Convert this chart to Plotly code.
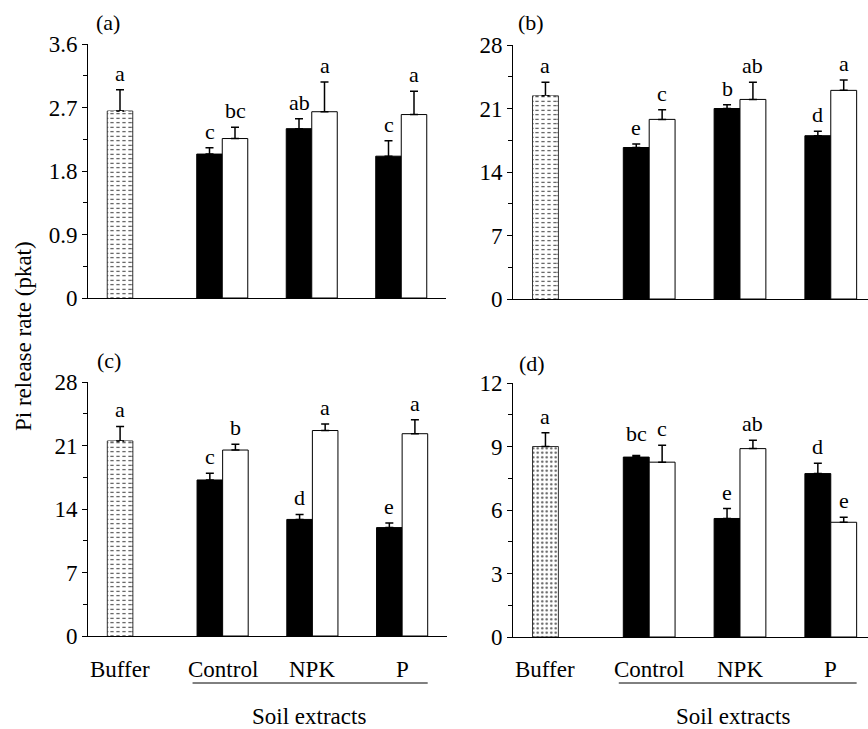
import plotly.graph_objects as go

# ---------------- data ----------------
groups = ["Control", "NPK", "P"]
buffer_label = "Buffer"

# panel (a)
a_buffer, a_buffer_err, a_buffer_let = 2.65, 0.30, "a"
a_black = [2.04, 2.40, 2.01]
a_black_err = [0.09, 0.14, 0.22]
a_black_let = ["c", "ab", "c"]
a_white = [2.26, 2.64, 2.60]
a_white_err = [0.16, 0.42, 0.33]
a_white_let = ["bc", "a", "a"]

# panel (b)
b_buffer, b_buffer_err, b_buffer_let = 22.4, 1.5, "a"
b_black = [16.7, 21.0, 18.0]
b_black_err = [0.4, 0.4, 0.5]
b_black_let = ["e", "b", "d"]
b_white = [19.8, 22.0, 23.0]
b_white_err = [1.05, 1.9, 1.15]
b_white_let = ["c", "ab", "a"]

# panel (c)
c_buffer, c_buffer_err, c_buffer_let = 21.5, 1.6, "a"
c_black = [17.2, 12.85, 11.95]
c_black_err = [0.75, 0.55, 0.5]
c_black_let = ["c", "d", "e"]
c_white = [20.5, 22.65, 22.3]
c_white_err = [0.65, 0.72, 1.55]
c_white_let = ["b", "a", "a"]

# panel (d)
d_buffer, d_buffer_err, d_buffer_let = 9.0, 0.65, "a"
d_black = [8.5, 5.6, 7.72]
d_black_err = [0.08, 0.47, 0.49]
d_black_let = ["bc", "e", "d"]
d_white = [8.26, 8.9, 5.42]
d_white_err = [0.8, 0.4, 0.24]
d_white_let = ["c", "ab", "e"]

y_ranges = {"a": (3.6, 0.9), "b": (28, 7), "c": (28, 7), "d": (12, 3)}

# ---------------- layout helpers ----------------
W, H = 868, 729
FONT = "Liberation Serif"
BW = 0.285  # bar width in category units
TXT = 23

cats = [buffer_label] + groups

panels = {
    "a": dict(xa="x", ya="y", xdom=(88 / W, 446 / W), ydom=(1 - 298 / H, 1 - 44 / H), xr=(-0.5, 3.5),
              data=(a_buffer, a_buffer_err, a_buffer_let, a_black, a_black_err, a_black_let, a_white, a_white_err, a_white_let),
              pat="-", lab=(108 / W, 1 - 22 / H)),
    "b": dict(xa="x2", ya="y2", xdom=(513 / W, 1.0), ydom=(1 - 299 / H, 1 - 45 / H), xr=(-0.5, 3.41),
              data=(b_buffer, b_buffer_err, b_buffer_let, b_black, b_black_err, b_black_let, b_white, b_white_err, b_white_let),
              pat="-", lab=(531 / W, 1 - 22 / H)),
    "c": dict(xa="x3", ya="y3", xdom=(88 / W, 447 / W), ydom=(1 - 636 / H, 1 - 382 / H), xr=(-0.5, 3.5),
              data=(c_buffer, c_buffer_err, c_buffer_let, c_black, c_black_err, c_black_let, c_white, c_white_err, c_white_let),
              pat="-", lab=(109 / W, 1 - 361 / H)),
    "d": dict(xa="x4", ya="y4", xdom=(513 / W, 1.0), ydom=(1 - 637 / H, 1 - 383 / H), xr=(-0.5, 3.41),
              data=(d_buffer, d_buffer_err, d_buffer_let, d_black, d_black_err, d_black_let, d_white, d_white_err, d_white_let),
              pat=".", lab=(532 / W, 1 - 363 / H)),
}

fig = go.Figure()
annotations = []
shapes = []
layout = {}

for key, p in panels.items():
    buf, buf_err, buf_let, blk, blk_err, blk_let, wht, wht_err, wht_let = p["data"]
    xa, ya = p["xa"], p["ya"]
    if p["pat"] == "-":
        pat = dict(shape="-", fgcolor="#333", size=4.5, solidity=0.22)
    else:
        pat = dict(shape=".", fgcolor="#555", size=4.5, solidity=0.22)
    # buffer bar
    fig.add_trace(go.Bar(
        x=[buffer_label], y=[buf], xaxis=xa, yaxis=ya, offset=-BW, width=BW,
        marker=dict(color="white", line=dict(color="#333", width=1), pattern=pat),
        error_y=dict(type="data", symmetric=False, array=[buf_err], arrayminus=[0],
                     color="black", thickness=1.5, width=4),
        showlegend=False, hoverinfo="skip"))
    if p["pat"] == "-":
        # white vertical breaks turning the horizontal lines into short dashes
        fig.add_trace(go.Bar(
            x=[buffer_label], y=[buf], xaxis=xa, yaxis=ya, offset=-BW + 0.012, width=BW - 0.024,
            marker=dict(color="rgba(0,0,0,0)", line=dict(width=0),
                        pattern=dict(shape="|", fillmode="replace", bgcolor="rgba(0,0,0,0)",
                                     fgcolor="white", size=6, solidity=0.45)),
            showlegend=False, hoverinfo="skip"))
    # black bars
    fig.add_trace(go.Bar(
        x=groups, y=blk, xaxis=xa, yaxis=ya, offset=-BW, width=BW,
        marker=dict(color="black", line=dict(color="black", width=1)),
        error_y=dict(type="data", symmetric=False, array=blk_err, arrayminus=[0] * len(blk),
                     color="black", thickness=1.5, width=4),
        showlegend=False, hoverinfo="skip"))
    # white bars
    fig.add_trace(go.Bar(
        x=groups, y=wht, xaxis=xa, yaxis=ya, offset=0, width=BW,
        marker=dict(color="white", line=dict(color="black", width=1)),
        error_y=dict(type="data", symmetric=False, array=wht_err, arrayminus=[0] * len(wht),
                     color="black", thickness=1.5, width=4),
        showlegend=False, hoverinfo="skip"))

    # letters
    def letter(xpos, ytop, txt, extra=0):
        annotations.append(dict(x=xpos, y=ytop, xref=xa, yref=ya, text=txt, showarrow=False,
                                yanchor="bottom", xanchor="center", yshift=2 + extra,
                                font=dict(family=FONT, size=22, color="black")))
    letter(0 - BW / 2, buf + buf_err, buf_let)
    for i in range(len(groups)):
        extra = 5 if (key == "d" and i == 0) else 0
        letter(i + 1 - BW / 2, blk[i] + blk_err[i], blk_let[i], extra)
        letter(i + 1 + BW / 2, wht[i] + wht_err[i], wht_let[i])

    # panel label
    annotations.append(dict(x=p["lab"][0], y=p["lab"][1], xref="paper", yref="paper",
                            text="(%s)" % key, showarrow=False, xanchor="center", yanchor="middle",
                            font=dict(family=FONT, size=22, color="black")))

    ymax, dt = y_ranges[key]
    xname = "xaxis" if xa == "x" else "xaxis" + xa[1:]
    yname = "yaxis" if ya == "y" else "yaxis" + ya[1:]
    layout[xname] = dict(domain=list(p["xdom"]), anchor=ya, type="category",
                         categoryorder="array", categoryarray=cats,
                         range=list(p["xr"]), showticklabels=False, ticks="",
                         showline=True, linecolor="black", linewidth=1, automargin=False,
                         showgrid=False, zeroline=False, fixedrange=True)
    layout[yname] = dict(domain=list(p["ydom"]), anchor=xa, range=[0, ymax], dtick=dt, tick0=0,
                         ticks="outside", ticklen=5, tickwidth=1, tickcolor="black",
                         minor=dict(dtick=dt / 2, ticks="outside", ticklen=4, tickwidth=1, tickcolor="black"),
                         showline=True, linecolor="black", linewidth=1, automargin=False,
                         showgrid=False, zeroline=False, fixedrange=True,
                         tickfont=dict(family=FONT, size=TXT, color="black"))

    # bottom panels: category labels, underline, "Soil extracts"
    if key in ("c", "d"):
        ylab = 1 - 669 / H
        annotations.append(dict(x=0 - BW / 2, y=ylab, xref=xa, yref="paper", text=buffer_label,
                                showarrow=False, xanchor="center", yanchor="middle",
                                font=dict(family=FONT, size=TXT, color="black")))
        for i, g in enumerate(groups):
            annotations.append(dict(x=i + 1, y=ylab, xref=xa, yref="paper", text=g,
                                    showarrow=False, xanchor="center", yanchor="middle",
                                    font=dict(family=FONT, size=TXT, color="black")))
        shapes.append(dict(type="line", xref=xa, yref="paper", x0=1 - BW - 0.05, x1=3 + BW,
                           y0=1 - 683 / H, y1=1 - 683 / H, line=dict(color="black", width=1)))
        sx = 309 / W if key == "c" else 733 / W
        annotations.append(dict(x=sx, y=1 - 716 / H, xref="paper", yref="paper", text="Soil extracts",
                                showarrow=False, xanchor="center", yanchor="middle",
                                font=dict(family=FONT, size=TXT, color="black")))

# y-axis title
annotations.append(dict(x=23 / W, y=1 - 336 / H, xref="paper", yref="paper",
                        text="Pi release rate (pkat)", textangle=-90, showarrow=False,
                        xanchor="center", yanchor="middle",
                        font=dict(family=FONT, size=TXT, color="black")))

fig.update_layout(template="none", width=W, height=H, margin=dict(l=0, r=0, t=0, b=0, pad=0),
                  paper_bgcolor="white", plot_bgcolor="white", barmode="overlay",
                  hovermode=False,
                  annotations=annotations, shapes=shapes, **layout)

fig.write_html("out.html", config={"displayModeBar": False, "staticPlot": True},
               post_script="document.body.style.margin='0';document.body.style.overflow='hidden';")
